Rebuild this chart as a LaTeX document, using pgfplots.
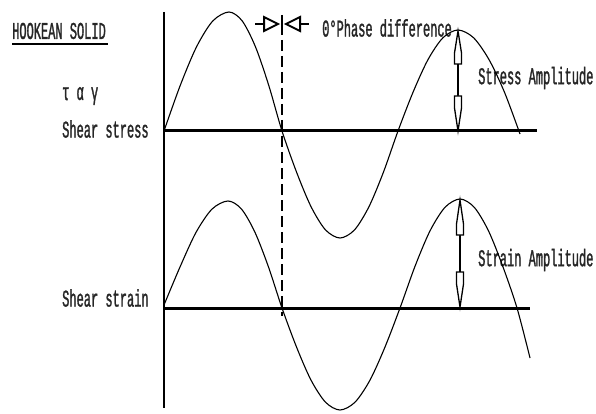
\documentclass[border=0pt]{standalone}
\usepackage{fontspec}
\usepackage{pgfplots}
\pgfplotsset{compat=1.18}
\setmainfont{Liberation Mono}
\newfontfamily\tw{Liberation Mono}[FakeStretch=0.5,FakeBold=1.2]
\tikzset{lbl/.style={inner sep=0pt, anchor=west, font=\tw\fontsize{24}{24}\selectfont, text=black!85}}

% hollow arrow heads used for the amplitude markers
\newcommand\uphead[3]{% x, apex y, base y
  \draw[line width=1.3pt,fill=white] (#1,#2) -- (#1+3.5,#3-11) -- (#1+3.5,#3) -- (#1-3.5,#3) -- (#1-3.5,#3-11) -- cycle;}
\newcommand\downhead[3]{% x, base y, apex y
  \draw[line width=1.3pt,fill=white] (#1-3.5,#2) -- (#1+3.5,#2) -- (#1+3.5,#2+12) -- (#1,#3) -- (#1-3.5,#2+12) -- cycle;}

\begin{document}
\begin{tikzpicture}
\path[use as bounding box] (0,0) rectangle (596pt,414pt);
\begin{axis}[
  at={(0,0)}, anchor=south west,
  hide axis, scale only axis,
  width=596pt, height=414pt,
  xmin=0, xmax=596, ymin=0, ymax=414,
  y dir=reverse, clip=false,
]
% labels
\node[lbl] at (12,31) {HOOKEAN SOLID};
\draw[line width=1.8pt] (12,44) -- (108,44);
\node[lbl] at (62,96) {τ α γ};
\node[lbl] at (62,129) {Shear stress};
\node[lbl] at (62,298) {Shear strain};
\node[lbl] at (322,28) {0°Phase difference};
\node[lbl] at (478,78) {Stress Amplitude};
\node[lbl] at (478,260) {Strain Amplitude};

% vertical axis and the two zero lines
\addplot[black, line width=1.8pt] coordinates {(164,12) (164,408)};
\addplot[black, line width=3pt] coordinates {(164,131) (537,131)};
\addplot[black, line width=3pt] coordinates {(164,308) (530,308)};

% in-phase marker
\addplot[black, line width=1.7pt, dash pattern=on 11pt off 5pt] coordinates {(282,24) (282,316)};
\draw[line width=2.4pt] (255,24) -- (264,24);
\draw[line width=2pt, fill=white] (264,17) -- (278,24) -- (264,31) -- cycle;
\draw[line width=1.8pt] (282,15) -- (282,33);
\draw[line width=2pt, fill=white] (300,17) -- (286,24) -- (300,31) -- cycle;
\draw[line width=2.4pt] (300,24) -- (309,24);

% shear stress
\addplot[black, line width=1.1pt, smooth] coordinates {
 (164,131) (180.25,85.4) (196.5,46.9) (212.75,21) (229,12) (242.25,21)
 (255.5,46.9) (268.75,85.4) (282,131) (296.5,172) (311,206.6) (325.5,229.9)
 (340,238) (354.5,229.9) (369,206.6) (383.5,172) (398,131) (413,92.3)
 (428,59.6) (443,37.7) (458,30) (473.5,37.7) (489,59.6) (504.5,92.3) (520,134)};

% shear strain
\addplot[black, line width=1.1pt, smooth] coordinates {
 (164,305) (180,267) (196,232.4) (212,209.1) (228,201) (241.5,209.1)
 (255,232.4) (268.5,267) (282,308) (296.5,347) (311,380.1) (325.5,402.2)
 (340,410) (355,402.2) (370,380.1) (385,347) (400,308) (415,266.3)
 (430,230.9) (445,207.3) (460,199) (474.25,207.3) (488.5,230.9)
 (502.75,266.3) (517,308) (530,358)};

% stress amplitude
\addplot[black, line width=1.4pt] coordinates {(458,64) (458,96)};
\uphead{458}{31}{64}
\downhead{458}{96}{131}
% strain amplitude
\addplot[black, line width=1.4pt] coordinates {(460,235) (460,272)};
\uphead{460}{200}{235}
\downhead{460}{272}{307}
\end{axis}
\end{tikzpicture}
\end{document}
